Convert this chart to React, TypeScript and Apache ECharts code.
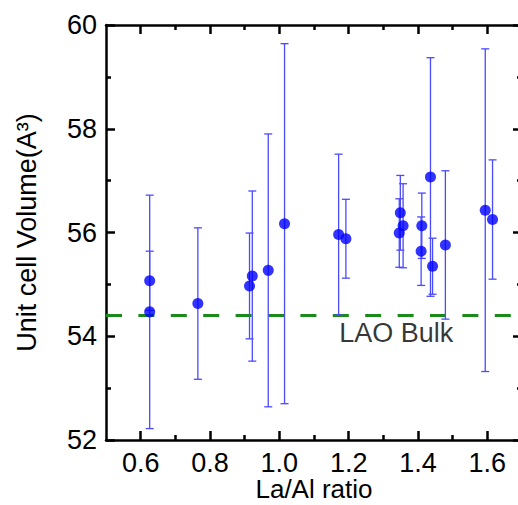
import React, { useEffect, useRef } from "react";
import * as echarts from "echarts";

const ratios = [0.626, 0.626, 0.765, 0.914, 0.922, 0.968, 1.015, 1.171, 1.192, 1.346, 1.349, 1.357, 1.411, 1.409, 1.436, 1.442, 1.479, 1.594, 1.615];
const volumes = [55.07, 54.47, 54.63, 54.97, 55.16, 55.27, 56.17, 55.96, 55.88, 55.99, 56.38, 56.13, 56.13, 55.64, 57.07, 55.35, 55.76, 56.43, 56.25];
const errors = [0.57, 2.25, 1.46, 1.02, 1.64, 2.63, 3.47, 1.55, 0.76, 0.66, 0.72, 0.81, 0.63, 0.66, 2.3, 0.54, 1.43, 3.11, 1.15];
const bulkVolume = 54.4;
const bulkLabel = "LAO Bulk";
const bulkLabelPos = [1.337, 54.06];
const xMajorTicks = [0.6, 0.8, 1.0, 1.2, 1.4, 1.6];
const xMinorTicks = [0.7, 0.9, 1.1, 1.3, 1.5];
const xMin = 0.5;
const xMax = 1.7;
const yMin = 52;
const yMax = 60;
const yStep = 2;

const FONT = "'Liberation Sans', Arial, sans-serif";
const FS = 27;

export default function App() {
  const ref = useRef<HTMLDivElement>(null);
  useEffect(() => {
    if (!ref.current) return;
    const chart = echarts.init(ref.current, null, { renderer: "svg" });
    const axisLine = { show: true, onZero: false, lineStyle: { color: "#000", width: 2.5 } };
    const baseX = (pos: string, ticks: number[], len: number, showLine: boolean, showLabel: boolean, name?: string) => ({
      type: "value",
      position: pos,
      min: xMin,
      max: xMax,
      gridIndex: 0,
      name: name,
      nameLocation: "middle",
      nameGap: 36,
      nameMoveOverlap: false,
      nameTextStyle: { fontFamily: FONT, fontSize: 26, color: "#000", lineHeight: 26 },
      axisLine: { ...axisLine, show: showLine },
      axisTick: { show: true, inside: true, length: len, customValues: ticks, lineStyle: { color: "#000", width: 2.5 } },
      axisLabel: {
        show: showLabel,
        customValues: ticks,
        formatter: (v: number) => v.toFixed(1),
        fontFamily: FONT,
        fontSize: FS,
        lineHeight: 23,
        color: "#000",
        margin: 11,
      },
      splitLine: { show: false },
    });
    const errData = ratios.map((x, i) => [x, volumes[i], errors[i]]);
    chart.setOption({
      animation: false,
      grid: { left: 106, top: 25, width: 416, height: 415, containLabel: false, outerBoundsMode: "none" },
      xAxis: [
        baseX("bottom", xMajorTicks, 9, true, true, "La/Al ratio"),
        baseX("bottom", xMinorTicks, 5, false, false),
        baseX("top", xMajorTicks, 9, true, false),
        baseX("top", xMinorTicks, 5, false, false),
      ],
      yAxis: [
        {
          type: "value",
          position: "left",
          min: yMin,
          max: yMax,
          interval: yStep,
          name: "Unit cell Volume(A³)",
          nameLocation: "middle",
          nameGap: 66,
          nameMoveOverlap: false,
          nameTextStyle: { fontFamily: FONT, fontSize: FS, color: "#000" },
          axisLine,
          axisTick: { inside: true, length: 9, lineStyle: { color: "#000", width: 2.5 } },
          minorTick: { show: true, splitNumber: 2, length: 5, lineStyle: { color: "#000", width: 2.5 } },
          axisLabel: { fontFamily: FONT, fontSize: FS, color: "#000", margin: 9 },
          splitLine: { show: false },
        },
        {
          type: "value",
          position: "right",
          min: yMin,
          max: yMax,
          interval: yStep,
          axisLine,
          axisTick: { inside: true, length: 9, lineStyle: { color: "#000", width: 2.5 } },
          minorTick: { show: true, splitNumber: 2, length: 5, lineStyle: { color: "#000", width: 2.5 } },
          axisLabel: { show: false },
          splitLine: { show: false },
        },
      ],
      series: [
        {
          type: "custom",
          xAxisIndex: 0,
          yAxisIndex: 0,
          data: errData,
          renderItem: (params: any, api: any) => {
            const x = api.value(0);
            const y = api.value(1);
            const e = api.value(2);
            const top = api.coord([x, y + e]);
            const bot = api.coord([x, y - e]);
            const hw = 4;
            const style = { stroke: "#4a4aff", lineWidth: 1.3 };
            return {
              type: "group",
              children: [
                { type: "line", shape: { x1: top[0], y1: top[1], x2: bot[0], y2: bot[1] }, style },
                { type: "line", shape: { x1: top[0] - hw, y1: top[1], x2: top[0] + hw, y2: top[1] }, style },
                { type: "line", shape: { x1: bot[0] - hw, y1: bot[1], x2: bot[0] + hw, y2: bot[1] }, style },
              ],
            };
          },
          z: 2,
        },
        {
          type: "scatter",
          xAxisIndex: 0,
          yAxisIndex: 0,
          data: ratios.map((x, i) => [x, volumes[i]]),
          symbol: "circle",
          symbolSize: 11,
          itemStyle: { color: "#0000ff" },
          z: 4,
          markLine: {
            silent: true,
            symbol: "none",
            label: { show: false },
            lineStyle: { color: "#1a8a1a", width: 3, type: [16, 16.4] },
            data: [{ yAxis: bulkVolume }],
            z: 1,
          },
        },
        {
          type: "scatter",
          xAxisIndex: 0,
          yAxisIndex: 0,
          data: [bulkLabelPos],
          symbolSize: 0,
          label: {
            show: true,
            position: "inside",
            formatter: bulkLabel,
            fontFamily: FONT,
            fontSize: FS,
            color: "#000",
          },
          z: 5,
        },
      ],
    });
    return () => chart.dispose();
  }, []);
  return <div ref={ref} style={{ width: 518, height: 505, position: "absolute", left: 0, top: 0 }} />;
}
